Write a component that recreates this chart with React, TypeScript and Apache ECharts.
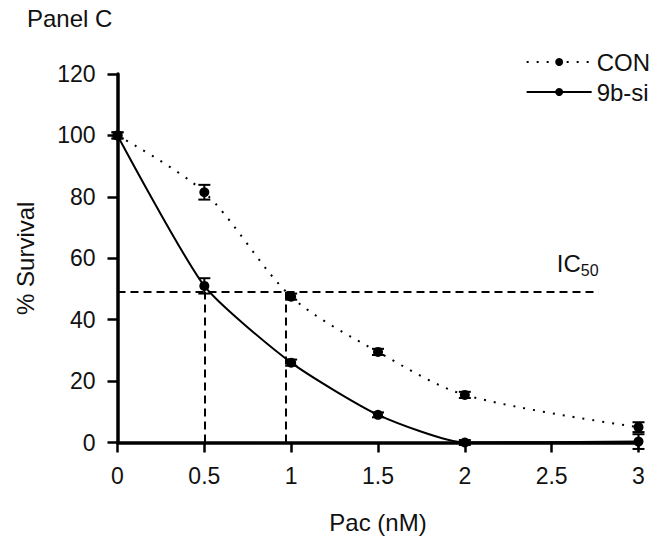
import React, { useEffect, useRef } from "react";
import * as echarts from "echarts";

const doses = [0, 0.5, 1, 1.5, 2, 3];
const conMean = [100, 81.5, 47.5, 29.5, 15.5, 5];
const conErr = [1, 2.4, 1, 1, 1, 1.6];
const siMean = [100, 51, 26, 9, 0, 0.3];
const siErr = [1, 2.5, 1, 0.8, 0.8, 2.4];
const xTicks = [0, 0.5, 1, 1.5, 2, 2.5, 3];
const ic50Value = 49;
const ic50LineEnd = 2.77;
const ic50Doses = [0.5, 0.97];

const FONT = "Liberation Sans, Arial, Helvetica, sans-serif";
const INK = "#111";

export default function App() {
  const ref = useRef<HTMLDivElement>(null);
  useEffect(() => {
    if (!ref.current) return;
    const chart = echarts.init(ref.current, null, { renderer: "svg" });
    const errRender = (params: any, api: any) => {
      const x = api.value(0);
      const y = api.value(1);
      const e = api.value(2);
      const top = api.coord([x, y + e]);
      const bot = api.coord([x, y - e]);
      const hw = 6;
      const st = { stroke: "#000", lineWidth: 2 };
      return {
        type: "group",
        children: [
          { type: "line", shape: { x1: top[0], y1: top[1], x2: bot[0], y2: bot[1] }, style: st },
          { type: "line", shape: { x1: top[0] - hw, y1: top[1], x2: top[0] + hw, y2: top[1] }, style: st },
          { type: "line", shape: { x1: bot[0] - hw, y1: bot[1], x2: bot[0] + hw, y2: bot[1] }, style: st },
        ],
      };
    };
    const dash = { color: "#000", width: 2, type: [8, 5] as any };
    chart.setOption({
      animation: false,
      title: {
        text: "Panel C",
        left: 22,
        top: 1,
        textStyle: { fontFamily: FONT, fontSize: 24, fontWeight: "normal", color: INK },
      },
      legend: {
        orient: "vertical",
        right: 16,
        top: 45,
        itemWidth: 65,
        itemHeight: 10,
        itemGap: 6,
        data: ["CON", "9b-si"],
        textStyle: { fontFamily: FONT, fontSize: 24, color: INK, lineHeight: 24 },
      },
      grid: { left: 117.5, right: 32.5, top: 74, bottom: 101.5 },
      xAxis: {
        type: "value",
        min: 0,
        max: 3,
        interval: 0.5,
        name: "Pac (nM)",
        nameLocation: "middle",
        nameGap: 68,
        nameTextStyle: { fontFamily: FONT, fontSize: 24, color: INK },
        axisLine: { onZero: false, lineStyle: { color: "#000", width: 3.5 } },
        axisTick: { length: 10, lineStyle: { color: "#000", width: 2.5 } },
        axisLabel: {
          fontFamily: FONT,
          fontSize: 23,
          color: INK,
          margin: 22,
          formatter: (v: number) => (xTicks.includes(v) ? String(v) : ""),
        },
        splitLine: { show: false },
      },
      yAxis: {
        type: "value",
        min: 0,
        max: 120,
        interval: 20,
        name: "% Survival",
        nameLocation: "middle",
        nameGap: 80,
        nameTextStyle: { fontFamily: FONT, fontSize: 24, color: INK },
        axisLine: { show: true, onZero: false, lineStyle: { color: "#000", width: 3.5 } },
        axisTick: { show: true, length: 10, lineStyle: { color: "#000", width: 2.5 } },
        axisLabel: { fontFamily: FONT, fontSize: 23, color: INK, margin: 22 },
        splitLine: { show: false },
      },
      series: [
        {
          name: "CON",
          type: "line",
          data: doses.map((d, i) => [d, conMean[i]]),
          smooth: 0.3,
          symbol: "circle",
          symbolSize: 10,
          itemStyle: { color: "#000" },
          lineStyle: { color: "#000", width: 2, type: [2, 8] as any },
          z: 3,
          markLine: {
            silent: true,
            symbol: "none",
            lineStyle: dash,
            data: [
              [
                {
                  coord: [0, ic50Value],
                  label: {
                    show: true,
                    position: "insideEndTop",
                    distance: [0, 14],
                    formatter: "{a|IC}{b|50}",
                    rich: {
                      a: { fontFamily: FONT, fontSize: 24, color: INK, verticalAlign: "bottom", padding: [0, 0, 3, 0] },
                      b: { fontFamily: FONT, fontSize: 16, color: INK, verticalAlign: "bottom" },
                    },
                  },
                },
                { coord: [ic50LineEnd, ic50Value] },
              ],
              ...ic50Doses.map((d) => [
                { coord: [d, 0], label: { show: false } },
                { coord: [d, ic50Value] },
              ]),
            ],
          },
        },
        {
          name: "9b-si",
          type: "line",
          data: doses.map((d, i) => [d, siMean[i]]),
          smooth: 0.2,
          symbol: "circle",
          symbolSize: 10,
          itemStyle: { color: "#000" },
          lineStyle: { color: "#000", width: 2 },
          z: 3,
        },
        {
          name: "CON err",
          type: "custom",
          renderItem: errRender,
          data: doses.map((d, i) => [d, conMean[i], conErr[i]]),
          encode: { x: 0, y: 1 },
          z: 4,
        },
        {
          name: "9b-si err",
          type: "custom",
          renderItem: errRender,
          data: doses.map((d, i) => [d, siMean[i], siErr[i]]),
          encode: { x: 0, y: 1 },
          z: 4,
        },
      ],
    });
    return () => chart.dispose();
  }, []);
  return (
    <div
      ref={ref}
      style={{ position: "fixed", left: 0, top: 0, width: 671, height: 544, background: "#fff" }}
    />
  );
}
